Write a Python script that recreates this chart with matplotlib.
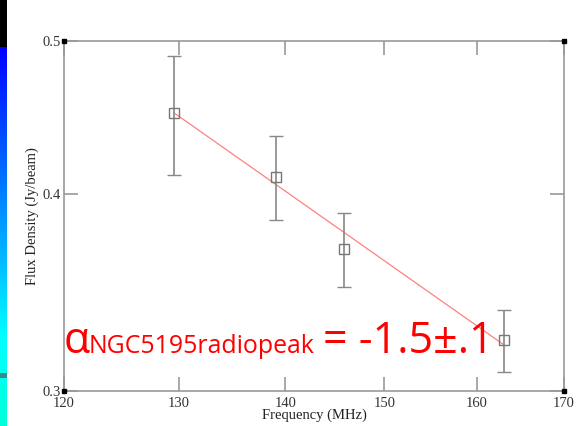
import numpy as np
import matplotlib
matplotlib.use("Agg")
import matplotlib.pyplot as plt
from matplotlib.ticker import FixedLocator, NullLocator, FixedFormatter

# Data
freq_mhz = [129.6, 139.1, 145.8, 163.0]
flux_jy = [0.450, 0.410, 0.369, 0.323]
flux_err = [0.039, 0.025, 0.020, 0.0145]
fit_freq = [129.6, 163.0]
fit_flux = [0.450, 0.321]
x_ticks = [120, 130, 140, 150, 160, 170]
x_ticklabels = ["120", "130", "140", "150", "160", "170"]
y_ticks = [0.3, 0.4, 0.5]
y_ticklabels = ["0.3", "0.4", "0.5"]

W, H = 581, 426
fig = plt.figure(figsize=(W / 100, H / 100), dpi=100)
fig.patch.set_facecolor("white")

# left slide strip (gradient background of the slide)
strip = fig.add_axes([0, 0, 7 / W, 1])
strip.set_axis_off()
rows = np.zeros((H, 1, 3))
for y in range(H):
    if y < 47:
        rows[y, 0] = [0, 0, 0]
    else:
        g = min(1.0, (y - 47) / 290)
        b = 1.0 if y < 337 else 1.0 - 0.15 * (y - 337) / (H - 337)
        rows[y, 0] = [0, g, b]
    if 373 <= y <= 377:
        rows[y, 0] = [0.2, 0.55, 0.55]
strip.imshow(rows, aspect="auto", extent=[0, 1, 0, 1], origin="upper",
             interpolation="nearest")
strip.set_xlim(0, 1)
strip.set_ylim(0, 1)

L, R, T, B = 64, 564, 41, 391
ax = fig.add_axes([L / W, 1 - B / H, (R - L) / W, (B - T) / H])
ax.set_xscale("log")
ax.set_yscale("log")
ax.set_xlim(120, 170)
ax.set_ylim(0.3, 0.5)

gray = "#999999"
for s in ax.spines.values():
    s.set_color(gray)
    s.set_linewidth(1.2)

ax.xaxis.set_major_locator(FixedLocator(x_ticks))
ax.xaxis.set_major_formatter(FixedFormatter(x_ticklabels))
ax.xaxis.set_minor_locator(NullLocator())
ax.yaxis.set_major_locator(FixedLocator(y_ticks))
ax.yaxis.set_major_formatter(FixedFormatter(y_ticklabels))
ax.yaxis.set_minor_locator(NullLocator())
ax.tick_params(which="major", direction="in", length=10, width=1.2, color=gray,
               top=True, right=True, labelsize=10.5)
ax.tick_params(axis="x", pad=4)
ax.tick_params(axis="y", pad=2)
for lab in ax.get_xticklabels() + ax.get_yticklabels():
    lab.set_fontfamily("Liberation Serif")
    lab.set_color("#333333")

ax.plot(fit_freq, fit_flux, color="#ff8080", lw=0.9, zorder=2)
ax.errorbar(freq_mhz, flux_jy, yerr=flux_err, fmt="s", ms=7, mfc="none",
            mec="#777777", mew=1.0, ecolor="#888888", elinewidth=1.2,
            capsize=5, capthick=1.2, zorder=3)

# corner squares
for cx in (120, 170):
    for cy in (0.3, 0.5):
        ax.plot([cx], [cy], marker="s", ms=3.5, color="black", clip_on=False, zorder=5)

fig.text(314 / W, 1 - 415 / H, "Frequency (MHz)", ha="center", va="center",
         family="Liberation Serif", fontsize=10.5, color="#222222")
fig.text(32 / W, 1 - 216 / H, "Flux Density (Jy/beam)", ha="center", va="center",
         rotation=90, family="Liberation Serif", fontsize=10.5, color="#222222")

# annotation
base = 1 - 353 / H
fig.text(64 / W, base, "α", ha="left", va="baseline", family="Open Sans",
         fontsize=31, color="red")
fig.text(89 / W, base, "NGC5195radiopeak", ha="left", va="baseline",
         family="Open Sans", fontsize=17.9, color="red")
fig.text(323 / W, base, "= -1.5±.1", ha="left", va="baseline",
         family="Open Sans", fontsize=31, color="red")

fig.savefig("out.png", dpi=100)
